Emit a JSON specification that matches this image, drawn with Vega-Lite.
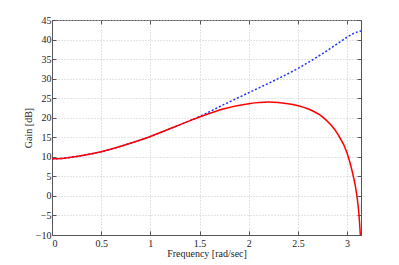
{
  "$schema": "https://vega.github.io/schema/vega-lite/v6.json",
  "width": 309,
  "height": 215,
  "autosize": {"type": "none"},
  "padding": {"left": 52, "top": 20, "right": 38, "bottom": 30},
  "background": "white",
  "config": {
    "view": {"stroke": "#555", "strokeWidth": 1},
    "font": "Times New Roman, Liberation Serif, serif",
    "axis": {
      "labelFont": "Times New Roman, Liberation Serif, serif",
      "titleFont": "Times New Roman, Liberation Serif, serif",
      "labelFontSize": 10,
      "titleFontSize": 10,
      "titleFontWeight": "normal",
      "labelColor": "#222",
      "titleColor": "#222",
      "domainColor": "#555",
      "tickColor": "#555",
      "gridColor": "#c8c8c8",
      "gridDash": [1, 2],
      "gridWidth": 1
    }
  },
  "datasets": {
    "curves": [
      {"w": 0, "g": 9.5, "s": "red"},
      {"w": 0.1, "g": 9.6, "s": "red"},
      {"w": 0.25, "g": 10.1, "s": "red"},
      {"w": 0.5, "g": 11.3, "s": "red"},
      {"w": 0.75, "g": 13.1, "s": "red"},
      {"w": 1.0, "g": 15.2, "s": "red"},
      {"w": 1.25, "g": 17.7, "s": "red"},
      {"w": 1.5, "g": 20.2, "s": "red"},
      {"w": 1.75, "g": 22.3, "s": "red"},
      {"w": 2.0, "g": 23.6, "s": "red"},
      {"w": 2.2, "g": 24.0, "s": "red"},
      {"w": 2.4, "g": 23.6, "s": "red"},
      {"w": 2.6, "g": 22.3, "s": "red"},
      {"w": 2.75, "g": 20.2, "s": "red"},
      {"w": 2.9, "g": 16.0, "s": "red"},
      {"w": 3.0, "g": 11.0, "s": "red"},
      {"w": 3.05, "g": 6.5, "s": "red"},
      {"w": 3.1, "g": 0, "s": "red"},
      {"w": 3.12, "g": -4.5, "s": "red"},
      {"w": 3.135, "g": -10, "s": "red"},
      {"w": 0, "g": 9.5, "s": "blue"},
      {"w": 0.1, "g": 9.6, "s": "blue"},
      {"w": 0.25, "g": 10.1, "s": "blue"},
      {"w": 0.5, "g": 11.3, "s": "blue"},
      {"w": 0.75, "g": 13.1, "s": "blue"},
      {"w": 1.0, "g": 15.2, "s": "blue"},
      {"w": 1.25, "g": 17.7, "s": "blue"},
      {"w": 1.5, "g": 20.3, "s": "blue"},
      {"w": 1.75, "g": 23.4, "s": "blue"},
      {"w": 2.0, "g": 26.4, "s": "blue"},
      {"w": 2.25, "g": 29.4, "s": "blue"},
      {"w": 2.5, "g": 32.6, "s": "blue"},
      {"w": 2.75, "g": 36.4, "s": "blue"},
      {"w": 2.9, "g": 38.9, "s": "blue"},
      {"w": 3.0, "g": 40.6, "s": "blue"},
      {"w": 3.07, "g": 41.6, "s": "blue"},
      {"w": 3.1416, "g": 42.2, "s": "blue"}
    ]
  },
  "data": {"name": "curves"},
  "layer": [
    {
      "transform": [{"filter": "datum.s === 'blue'"}],
      "mark": {"type": "line", "color": "#2030ff", "strokeWidth": 1.5, "strokeDash": [2, 2], "interpolate": "monotone", "clip": true},
      "encoding": {
        "x": {"field": "w", "type": "quantitative", "scale": {"domain": [0, 3.1416], "nice": false, "zero": false},
          "axis": {"orient": "top", "values": [0, 0.5, 1, 1.5, 2, 2.5, 3], "labels": false, "title": null, "grid": false, "domain": false, "tickSize": -4}},
        "y": {"field": "g", "type": "quantitative", "scale": {"domain": [-10, 45], "nice": false, "zero": false},
          "axis": {"orient": "right", "values": [-10, -5, 0, 5, 10, 15, 20, 25, 30, 35, 40, 45], "labels": false, "title": null, "grid": false, "domain": false, "tickSize": -4}}
      }
    },
    {
      "transform": [{"filter": "datum.s === 'red'"}],
      "mark": {"type": "line", "color": "#ff0000", "strokeWidth": 1.5, "interpolate": "monotone", "clip": true},
      "encoding": {
        "x": {"field": "w", "type": "quantitative", "scale": {"domain": [0, 3.1416], "nice": false, "zero": false},
          "axis": {"orient": "bottom", "values": [0, 0.5, 1, 1.5, 2, 2.5, 3], "format": "~g", "title": "Frequency [rad/sec]", "grid": true, "tickSize": -4, "labelPadding": 7, "titlePadding": 0}},
        "y": {"field": "g", "type": "quantitative", "scale": {"domain": [-10, 45], "nice": false, "zero": false},
          "axis": {"orient": "left", "values": [-10, -5, 0, 5, 10, 15, 20, 25, 30, 35, 40, 45], "format": "~g", "title": "Gain [dB]", "grid": true, "tickSize": -4, "labelPadding": 5, "titlePadding": 2}}
      }
    }
  ],
  "resolve": {"axis": {"x": "independent", "y": "independent"}}
}
